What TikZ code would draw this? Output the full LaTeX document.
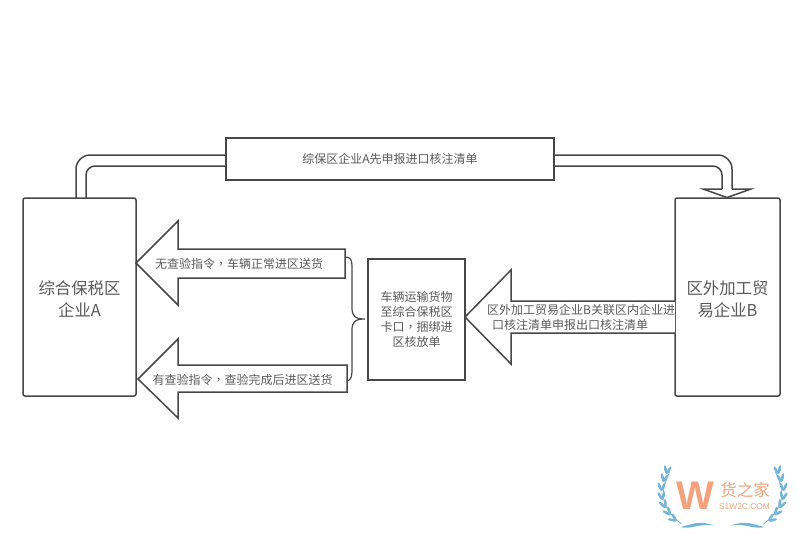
\documentclass[tikz,border=0pt]{standalone}
\usepackage{fontspec}
\setmainfont{Noto Sans CJK SC}
\newfontfamily\commafont{Noto Sans CJK TC}
\newfontfamily\logofont{Liberation Sans}
\newcommand{\dou}{{\commafont ，}}
\newcommand{\tiao}{\rule{0pt}{18pt}}
\definecolor{linegray}{HTML}{474747}
\definecolor{textgray}{HTML}{5A5A5A}
\definecolor{logoorange}{HTML}{F4A17C}
\definecolor{logoblue}{HTML}{74B4D6}
\tikzset{
  bigbox/.style={draw=linegray, line width=1.5pt, rounded corners=2pt, fill=white, text=textgray,
    minimum height=198pt, align=center, inner sep=0pt, font=\fontsize{16.4}{22}\selectfont},
  plainbox/.style={draw=linegray, line width=1.5pt, fill=white, text=textgray, align=center,
    inner sep=0pt, font=\fontsize{12}{15}\selectfont},
  label/.style={text=textgray, inner sep=0pt, font=\fontsize{12}{15}\selectfont},
  pipe/.style={draw=linegray, line width=1.5pt, rounded corners=#1},
  flow/.style={draw=linegray, line width=1.5pt, fill=white, line join=miter},
  leaf/.style={fill=logoblue, draw=none}
}
\begin{document}
\begin{tikzpicture}[x=1pt, y=-1pt]
\useasboundingbox (0,0) rectangle (800,542);
% boxes
\node[bigbox, minimum width=113pt] (qiyeA) at (79.5,297) {\tiao 综合保税区\\企业A};
\node[bigbox, minimum width=105pt] (qiyeB) at (727.5,297) {\tiao 区外加工贸\\易企业B};
\node[plainbox, minimum width=97pt, minimum height=121pt] (kakou) at (416.5,319.5) {车辆运输货物\\至综合保税区\\卡口\dou 捆绑进\\区核放单};
\node[plainbox, minimum width=328pt, minimum height=42pt] (shenbao) at (390,159) {综保区企业A先申报进口核注清单};
% pipe over the top, A to B
\draw[pipe=14pt] (76,198) -- (76,155) -- (shenbao.west |- 0,155);
\draw[pipe=9pt] (86,198) -- (86,166) -- (shenbao.west |- 0,166);
\draw[pipe=14pt] (shenbao.east |- 0,155) -- (732,155) -- (732,189);
\draw[pipe=9pt] (shenbao.east |- 0,166) -- (722,166) -- (722,189);
\draw[flow] (722,189) -- (703,189) -- (727,197.5) -- (751,189) -- (732,189);
% big arrows
\draw[flow] (345,249) -- (178,249) -- (178,221) -- (136,263) -- (178,305) -- (178,278) -- (345,278) -- cycle;
\draw[flow] (347,365) -- (178,365) -- (178,339) -- (138,379) -- (178,418) -- (178,392) -- (347,392) -- cycle;
\draw[flow] (675,301) -- (511,301) -- (511,270) -- (465,317) -- (511,364) -- (511,333) -- (675,333);
\node[label] (wuzhiling) at (239,264) {无查验指令\dou 车辆正常进区送货};
\node[label] (youzhiling) at (242.5,380) {有查验指令\dou 查验完成后进区送货};
\node[label, align=left, anchor=west] (guanlian) at (487,317.5) {区外加工贸易企业B关联区内企业进\\\hspace{5pt}口核注清单申报出口核注清单};
% brace
\draw[draw=linegray, line width=1.2pt] (345,257) .. controls (351,257) and (352,260) .. (352,268) -- (352,308)
  .. controls (352,316) and (355,319) .. (365,319) .. controls (355,319) and (352,322) .. (352,330) -- (352,369)
  .. controls (352,377) and (351,380) .. (347,381);
% logo
\node[text=logoorange, inner sep=0pt, font=\logofont\bfseries\fontsize{40}{40}\selectfont] (logoW) at (695,495.5) {W};
\node[text=logoorange, inner sep=0pt, font=\fontsize{16.5}{18}\selectfont] (logoname) at (745,490) {货之家};
\node[text=logoorange, inner sep=0pt, font=\logofont\fontsize{8.4}{10}\selectfont] (logourl) at (744.5,506.5) {S1W2C.COM};
\foreach \s in {1,-1} {
  \begin{scope}[xshift=722.5pt, xscale=\s]
    \foreach \px/\py/\r in {-56/474/80, -59/482/80, -61/491/90, -60/500/100, -57/508/115, -52/515/130, -46/521/145} {
      \fill[leaf, rotate around={\r+22:(\px,\py)}] (\px+4.5,\py) ellipse (4.5pt and 1.4pt);
      \fill[leaf, rotate around={\r-22:(\px,\py)}] (\px+4.5,\py) ellipse (4.5pt and 1.4pt);
    }
    \draw[logoblue, line width=0.8pt] (-53,472) .. controls (-61,490) and (-65,505) .. (-41,524);
    \fill[leaf] (-42,527) .. controls (-32,525) and (-24,519.5) .. (-8,525.5) .. controls (-24,523) and (-32,530) .. cycle;
  \end{scope}
}
\end{tikzpicture}
\end{document}
